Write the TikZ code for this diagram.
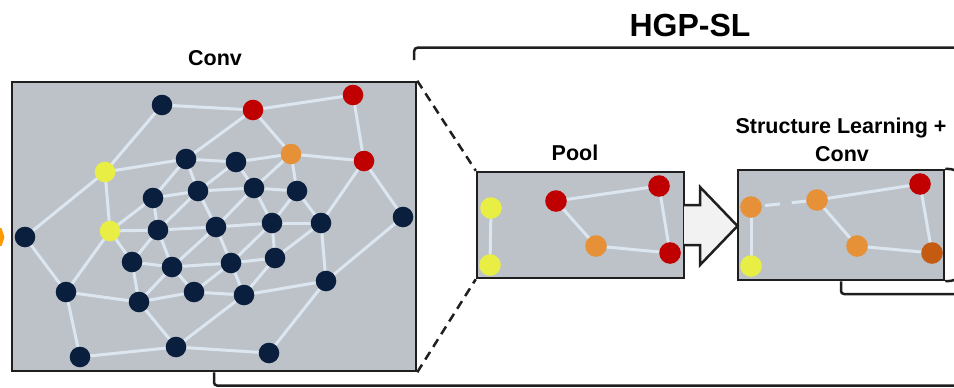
\documentclass[tikz,border=0pt]{standalone}
\usepackage{fontspec}
\setmainfont{Liberation Sans}
\definecolor{boxgray}{RGB}{189,194,200}
\definecolor{edgecol}{RGB}{219,230,241}
\definecolor{navy}{RGB}{10,30,62}
\definecolor{nodered}{RGB}{192,0,0}
\definecolor{nodeorange}{RGB}{230,145,56}
\definecolor{nodeyellow}{RGB}{232,238,68}
\definecolor{nodedarkorange}{RGB}{197,90,17}
\definecolor{chevorange}{RGB}{255,153,0}
\definecolor{arrowfill}{RGB}{242,242,242}
\pgfdeclarelayer{panels}
\pgfdeclarelayer{links}
\pgfsetlayers{panels,links,main}
\begin{document}
\begin{tikzpicture}[x=1pt,y=-1pt,
  panel/.style={draw=black!88, line width=2.5pt, fill=boxgray, rectangle, inner sep=0pt},
  gn/.style={circle, inner sep=0pt, minimum size=20.6pt, draw=none},
  sn/.style={circle, inner sep=0pt, minimum size=21.6pt, draw=none},
  dk/.style={fill=navy},
  rd/.style={fill=nodered},
  og/.style={fill=nodeorange},
  yl/.style={fill=nodeyellow},
  dog/.style={fill=nodedarkorange},
  link/.style={draw=edgecol, line width=3pt, line cap=round},
  outline/.style={draw=black!88, line width=2.5pt},
  zoomline/.style={draw=black!88, line width=2.5pt, dash pattern=on 9pt off 6pt},
  lbl/.style={font=\bfseries\fontsize{21.5}{24}\selectfont, inner sep=0pt, anchor=base},
  title/.style={font=\bfseries\fontsize{32}{36}\selectfont, inner sep=0pt, anchor=base}
]
\useasboundingbox (0,0) rectangle (954,388);

% panels
\begin{pgfonlayer}{panels}
  \node[panel, minimum width=404pt, minimum height=289pt] (conv) at (214,226.5) {};
  \node[panel, minimum width=207pt, minimum height=106pt] (pool) at (580.5,225) {};
  \node[panel, minimum width=206pt, minimum height=110pt] (struct) at (841,225) {};
\end{pgfonlayer}

% headings
\node[title] (hgp) at (690,36.7) {HGP-SL};
\node[lbl] (convlbl) at (215,65) {Conv};
\node[lbl] (poollbl) at (575,160.7) {Pool};
\node[lbl] (sllbl) at (841,133.3) {Structure Learning +};
\node[lbl] (sllbl2) at (842,161.3) {Conv};

% brackets
\coordinate (tl) at (414,60);
\coordinate (tr) at (960,47.5);
\draw[outline, rounded corners=4pt] (tl) |- (tr);
\coordinate (br) at (960,385.5);
\draw[outline, rounded corners=3pt] (conv.south) |- (br);
\coordinate (sbr) at (960,294);
\draw[outline, rounded corners=3pt] (struct.south) |- (sbr);
\coordinate (sq1) at (963,170);
\coordinate (sq2) at (963,280);
\draw[outline, rounded corners=12pt] (struct.north east) -- (sq1) -- (sq2) -- (struct.south east);

% zoom lines from the conv panel to the pool panel
\draw[zoomline] (conv.north east) -- (pool.north west);
\draw[zoomline] (conv.south east) -- (pool.south west);

% block arrow between pool and structure learning
\draw[outline, fill=arrowfill, line join=miter]
  (684,205) -- (700,205) -- (700,187) -- (737.5,226) -- (700,265) -- (700,245) -- (684,245);

% incoming arrow tip at the left border
\fill[chevorange] (0,228) -- (1.5,228) -- (4.5,237) -- (1.5,246) -- (0,246) -- cycle;

% graph in the conv panel
\node[gn,dk] (n1) at (162,105) {};
\node[gn,rd] (n2) at (253,110) {};
\node[gn,rd] (n3) at (353,95) {};
\node[gn,og] (n4) at (291,154) {};
\node[gn,rd] (n5) at (364,161) {};
\node[gn,yl] (n6) at (105,172) {};
\node[gn,dk] (n7) at (186,159) {};
\node[gn,dk] (n8) at (236,162) {};
\node[gn,dk] (n9) at (153,198) {};
\node[gn,dk] (n10) at (198,191) {};
\node[gn,dk] (n11) at (254,188) {};
\node[gn,dk] (n12) at (297,191) {};
\node[gn,dk] (n13) at (403,217) {};
\node[gn,dk] (n14) at (25,237) {};
\node[gn,yl] (n15) at (110,231) {};
\node[gn,dk] (n16) at (158,230) {};
\node[gn,dk] (n17) at (216,227) {};
\node[gn,dk] (n18) at (272,223) {};
\node[gn,dk] (n19) at (321,223) {};
\node[gn,dk] (n20) at (132,262) {};
\node[gn,dk] (n21) at (172,267) {};
\node[gn,dk] (n22) at (231,263) {};
\node[gn,dk] (n23) at (275,258) {};
\node[gn,dk] (n24) at (66,292) {};
\node[gn,dk] (n25) at (139,302) {};
\node[gn,dk] (n26) at (194,292) {};
\node[gn,dk] (n27) at (244,295) {};
\node[gn,dk] (n28) at (326,281) {};
\node[gn,dk] (n29) at (80,357) {};
\node[gn,dk] (n30) at (176,347) {};
\node[gn,dk] (n31) at (269,353) {};

\begin{pgfonlayer}{links}
\foreach \a/\b in {1/2,1/6,2/3,2/7,2/4,3/5,4/5,4/8,4/11,4/12,5/13,5/19,
  6/7,6/14,6/15,7/8,7/9,7/10,8/10,8/11,9/10,9/15,9/16,10/11,10/16,10/17,
  11/12,11/17,11/18,12/18,12/19,13/28,14/24,15/16,15/20,15/24,16/17,16/20,
  16/21,17/18,17/21,17/22,18/19,18/22,18/23,19/23,19/28,20/21,20/25,21/22,
  21/25,21/26,22/23,22/26,22/27,23/27,24/25,24/29,25/26,25/30,26/27,27/28,
  27/30,28/31,29/30,30/31}
  \draw[link] (n\a) -- (n\b);
\end{pgfonlayer}

% graph in the pool panel
\node[sn,yl] (p1) at (491,208) {};
\node[sn,yl] (p2) at (490,265) {};
\node[sn,rd] (p3) at (556,201) {};
\node[sn,rd] (p4) at (659,186) {};
\node[sn,og] (p5) at (596,246) {};
\node[sn,rd] (p6) at (670,253) {};
\begin{pgfonlayer}{links}
\foreach \a/\b in {1/2,3/4,3/5,5/6,4/6}
  \draw[link] (p\a) -- (p\b);
\end{pgfonlayer}

% graph in the structure learning panel
\node[sn,og] (s1) at (751,207) {};
\node[sn,yl] (s2) at (751,266) {};
\node[sn,og] (s3) at (817,200) {};
\node[sn,rd] (s4) at (920,184) {};
\node[sn,og] (s5) at (857,246) {};
\node[sn,dog] (s6) at (932,253) {};
\begin{pgfonlayer}{links}
\foreach \a/\b in {1/2,3/4,3/5,5/6,4/6}
  \draw[link] (s\a) -- (s\b);
\draw[link, line cap=butt, dash pattern=on 15pt off 12pt, dash phase=-3pt] (s1) -- (s3);
\end{pgfonlayer}
\end{tikzpicture}
\end{document}
